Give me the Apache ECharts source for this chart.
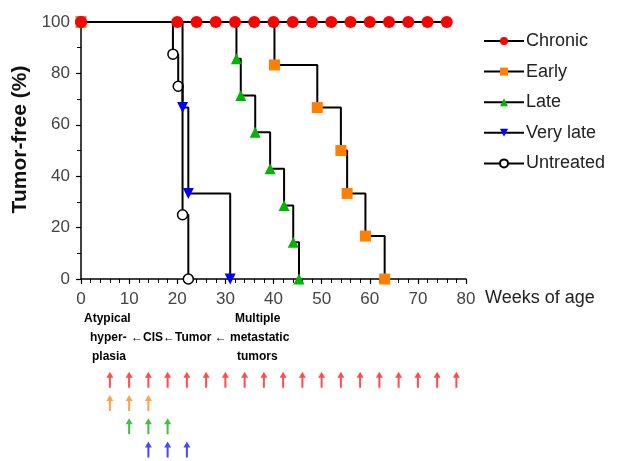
<!DOCTYPE html>
<html><head><meta charset="utf-8">
<script src="https://cdn.jsdelivr.net/npm/echarts@6/dist/echarts.min.js"></script>
<style>html,body{margin:0;padding:0;background:#fff}#c{width:619px;height:461px}</style>
</head><body><div id="c"></div>
<script>
// ---- data ----
const chronicWeeks = [0, 20, 24, 28, 32, 36, 40, 44, 48, 52, 56, 60, 64, 68, 72, 76];
const chronicFree  = [100,100,100,100,100,100,100,100,100,100,100,100,100,100,100,100];
const earlyWeeks = [0, 40.2, 49.1, 54.0, 55.3, 59.1, 63.1];
const earlyFree  = [100, 83.3, 66.7, 50.0, 33.3, 16.7, 0];
const lateWeeks = [0, 32.3, 33.2, 36.2, 39.3, 42.2, 44.1, 45.3];
const lateFree  = [100, 85.7, 71.4, 57.1, 42.9, 28.6, 14.3, 0];
const veryLateWeeks = [0, 21.1, 22.3, 31.0];
const veryLateFree  = [100, 66.7, 33.3, 0];
const untreatedWeeks = [0, 19.1, 20.2, 21.1, 22.3];
const untreatedFree  = [100, 87.5, 75.0, 25.0, 0];

const xTicks = [0, 10, 20, 30, 40, 50, 60, 70, 80];
const yTicks = [0, 20, 40, 60, 80, 100];

// treatment schedules (weeks of age)
const scheduleRows = ['Chronic', 'Early', 'Late', 'Very late'];
const chronicDoses = [6, 10, 14, 18, 22, 26, 30, 34, 38, 42, 46, 50, 54, 58, 62, 66, 70, 74, 78];
const earlyDoses = [6, 10, 14];
const lateDoses = [10, 14, 18];
const veryLateDoses = [14, 18, 22];

const zip = (a, b) => a.map((v, i) => [v, b[i]]);
const rowPts = (arr, r) => arr.map(v => [v, r]);

const arrowPath = 'path://M3,0 L6.5,6 L4,6 L4,16 L2,16 L2,6 L-0.5,6 Z';
const font = 'Liberation Sans, Arial, sans-serif';
const noteFont = 'bold 12px "Liberation Sans Narrow", "Liberation Sans", sans-serif';

function kmSeries(name, data, symbol, color, size, extra) {
  return Object.assign({
    name, type: 'line', step: 'end', data, symbol, symbolSize: size,
    xAxisIndex: 0, yAxisIndex: 0,
    lineStyle: { color: '#000', width: 2 },
    itemStyle: { color, borderColor: color, borderWidth: 0 },
    emphasis: { disabled: true }, animation: false
  }, extra || {});
}

const chart = echarts.init(document.getElementById('c'));
chart.setOption({
  animation: false,
  grid: [
    { left: 81, right: 153, top: 22, bottom: 182 },
    { left: 81, right: 153, top: 368, height: 97 }
  ],
  xAxis: [
    { type: 'value', gridIndex: 0, min: 0, max: 80, interval: 10,
      name: 'Weeks of age', nameLocation: 'end', nameGap: 19,
      nameTextStyle: { fontFamily: font, fontSize: 18, color: '#222', align: 'left', verticalAlign: 'top', padding: [10, 0, 0, 0] },
      axisLine: { show: true, lineStyle: { color: '#000', width: 1.5 } },
      axisTick: { show: true, length: 5, lineStyle: { color: '#000', width: 1.2 } },
      minorTick: { show: true, splitNumber: 5, length: 4, lineStyle: { color: '#000', width: 1 } },
      splitLine: { show: false },
      axisLabel: { fontFamily: font, fontSize: 17, color: '#444', margin: 12 } },
    { type: 'value', gridIndex: 1, min: 0, max: 80, show: false }
  ],
  yAxis: [
    { type: 'value', gridIndex: 0, min: 0, max: 100, interval: 20,
      name: 'Tumor-free (%)', nameLocation: 'middle', nameGap: 44,
      nameTextStyle: { fontFamily: font, fontSize: 21, fontWeight: 'bold', color: '#111', padding: [0, 0, 0, 22] },
      axisLine: { show: true, lineStyle: { color: '#000', width: 1.5 } },
      axisTick: { show: true, length: 5, lineStyle: { color: '#000', width: 1.2 } },
      minorTick: { show: true, splitNumber: 2, length: 4, lineStyle: { color: '#000', width: 1 } },
      splitLine: { show: false },
      axisLabel: { fontFamily: font, fontSize: 17, color: '#444', margin: 11 } },
    { type: 'category', gridIndex: 1, data: scheduleRows, inverse: true, show: false }
  ],
  legend: {
    left: 478, top: 27, orient: 'vertical', itemWidth: 40, itemHeight: 10, itemGap: 12.6,
    data: ['Chronic', 'Early', 'Late', 'Very late', 'Untreated'],
    textStyle: { fontFamily: font, fontSize: 18, color: '#222', padding: [0, 0, 0, -3] },
    selectedMode: false
  },
  series: [
    kmSeries('Untreated', zip(untreatedWeeks, untreatedFree), 'circle', '#fff', 10,
      { itemStyle: { color: '#fff', borderColor: '#000', borderWidth: 1.5 }, z: 2 }),
    kmSeries('Very late', zip(veryLateWeeks, veryLateFree), 'triangle', '#0000ff', 11,
      { symbolRotate: 180, z: 3 }),
    kmSeries('Late', zip(lateWeeks, lateFree), 'triangle', '#00b400', 11, { z: 4 }),
    kmSeries('Early', zip(earlyWeeks, earlyFree), 'rect', '#ff8000', 11, { z: 5 }),
    kmSeries('Chronic', zip(chronicWeeks, chronicFree), 'circle', '#ff0000', 12, { z: 6 }),
    { type: 'scatter', xAxisIndex: 1, yAxisIndex: 1, symbol: arrowPath, symbolSize: [7, 16],
      data: rowPts(chronicDoses, 'Chronic'), itemStyle: { color: '#ff2020' }, silent: true },
    { type: 'scatter', xAxisIndex: 1, yAxisIndex: 1, symbol: arrowPath, symbolSize: [7, 16],
      data: rowPts(earlyDoses, 'Early'), itemStyle: { color: '#ff8c1a' }, silent: true },
    { type: 'scatter', xAxisIndex: 1, yAxisIndex: 1, symbol: arrowPath, symbolSize: [7, 16],
      data: rowPts(lateDoses, 'Late'), itemStyle: { color: '#10b010' }, silent: true },
    { type: 'scatter', xAxisIndex: 1, yAxisIndex: 1, symbol: arrowPath, symbolSize: [7, 16],
      data: rowPts(veryLateDoses, 'Very late'), itemStyle: { color: '#1a1aff' }, silent: true }
  ],
  graphic: [
    { type: 'group', children: [
      { type: 'text', left: 84, top: 313, style: { text: 'Atypical', font: noteFont, fill: '#000' } },
      { type: 'text', left: 90, top: 332, style: { text: 'hyper-', font: noteFont, fill: '#000' } },
      { type: 'text', left: 92, top: 351, style: { text: 'plasia', font: noteFont, fill: '#000' } },
      { type: 'text', left: 131, top: 332, style: { text: '←CIS←Tumor ←', font: noteFont, fill: '#000' } },
      { type: 'text', left: 235, top: 313, style: { text: 'Multiple', font: noteFont, fill: '#000' } },
      { type: 'text', left: 230, top: 332, style: { text: 'metastatic', font: noteFont, fill: '#000' } },
      { type: 'text', left: 237, top: 351, style: { text: 'tumors', font: noteFont, fill: '#000' } }
    ]}
  ]
});
</script></body></html>
